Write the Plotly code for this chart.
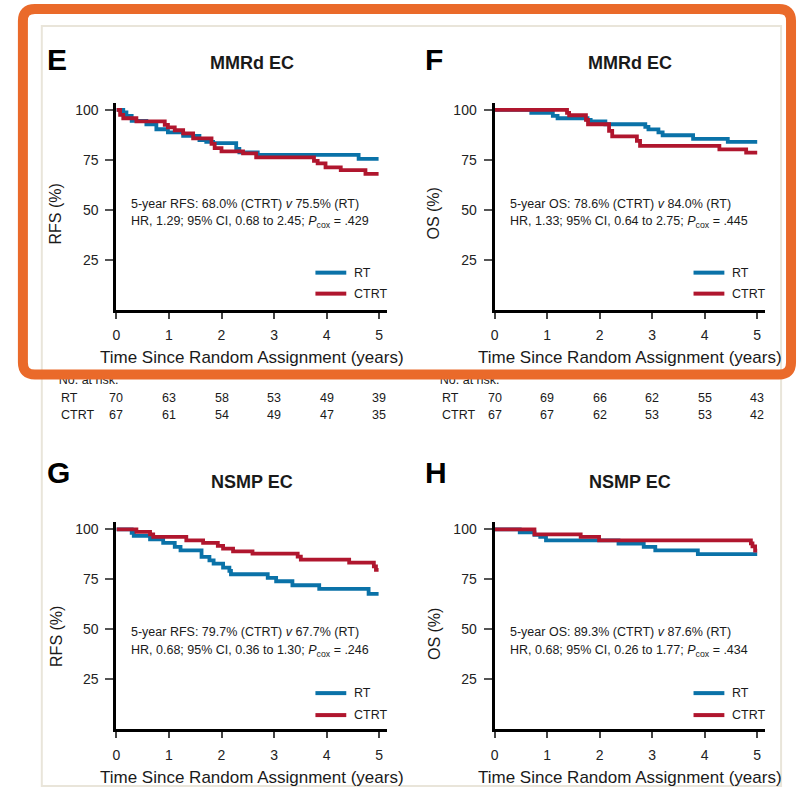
import plotly.graph_objects as go

W, H = 797, 788

# ---------------- Kaplan-Meier step data (time in years, survival %) ----------------
# Panel E: MMRd EC, recurrence-free survival
e_rt_t = [0, 0.13, 0.19, 0.29, 0.57, 0.76, 0.98, 1.27, 1.58, 1.71, 1.84, 2.28, 2.34, 2.69, 4.61, 4.99]
e_rt_s = [100, 98.7, 97, 94.5, 92.8, 90.3, 88.7, 87, 84.8, 84, 83.3, 80.5, 78.7, 77.5, 75.5, 75.5]
e_ct_t = [0, 0.07, 0.13, 0.38, 0.92, 0.98, 1.11, 1.27, 1.46, 1.81, 1.87, 2.0, 2.41, 2.66, 3.76, 3.83, 3.98, 4.27, 4.74, 4.99]
e_ct_s = [100, 97.5, 95.8, 94.2, 92.5, 91.2, 89.8, 88.2, 85.7, 83, 80.8, 79.2, 78.2, 76.2, 74.5, 73.2, 71.2, 69.8, 68.0, 68.0]

# Panel F: MMRd EC, overall survival
f_rt_t = [0, 0.70, 1.11, 1.20, 1.77, 1.83, 2.11, 2.87, 2.93, 3.12, 3.20, 3.78, 4.44, 5.0]
f_rt_s = [100, 98.5, 97, 95.8, 95, 94.2, 92.8, 91.5, 90.2, 88.7, 87.3, 85.5, 84.0, 84.0]
f_ct_t = [0, 1.38, 1.42, 1.74, 1.78, 2.18, 2.24, 2.71, 2.77, 4.28, 4.79, 5.0]
f_ct_s = [100, 98.5, 97.3, 95, 92.8, 89.5, 86.7, 84.5, 82, 80.2, 78.6, 78.6]

# Panel G: NSMP EC, recurrence-free survival
g_rt_t = [0, 0.29, 0.33, 0.64, 0.89, 1.11, 1.22, 1.62, 1.77, 1.85, 2.03, 2.15, 2.18, 2.88, 3.04, 3.35, 3.86, 4.80, 4.99]
g_rt_s = [100, 98.3, 96.7, 95, 93.2, 91.2, 89.5, 86.2, 84.5, 82.8, 80.8, 79.2, 77.5, 75.7, 74, 72, 70.2, 67.7, 67.7]
g_ct_t = [0, 0.38, 0.64, 0.70, 1.33, 1.65, 1.93, 2.03, 2.22, 2.59, 3.45, 3.51, 4.43, 4.90, 4.94, 4.99]
g_ct_s = [100, 98.7, 97.5, 96.2, 94.5, 93.2, 91.7, 90.3, 89, 87.8, 86.3, 84.8, 83.3, 81.5, 79.7, 79.7]

# Panel H: NSMP EC, overall survival
h_rt_t = [0, 0.48, 0.76, 0.87, 0.98, 2.36, 2.84, 3.06, 3.87, 5.0]
h_rt_s = [100, 98.5, 97.2, 96.2, 94.5, 92.8, 91.2, 89.5, 87.6, 87.6]
h_ct_t = [0, 0.76, 1.64, 1.99, 4.88, 4.91, 4.96, 5.0]
h_ct_s = [100, 97.5, 96.2, 94.5, 93, 91.5, 89.3, 89.3]

# Number at risk (years 0-5)
risk_years = [0, 1, 2, 3, 4, 5]
e_risk_rt = [70, 63, 58, 53, 49, 39]
e_risk_ct = [67, 61, 54, 49, 47, 35]
f_risk_rt = [70, 69, 66, 62, 55, 43]
f_risk_ct = [67, 67, 62, 53, 53, 42]

# Text
letters = ["E", "F", "G", "H"]
subgroups = ["MMRd EC", "MMRd EC", "NSMP EC", "NSMP EC"]
y_titles = ["RFS (%)", "OS (%)", "RFS (%)", "OS (%)"]
x_title = "Time Since Random Assignment (years)"
stat_line1 = [
    "5-year RFS: 68.0% (CTRT) <i>v</i> 75.5% (RT)",
    "5-year OS: 78.6% (CTRT) <i>v</i> 84.0% (RT)",
    "5-year RFS: 79.7% (CTRT) <i>v</i> 67.7% (RT)",
    "5-year OS: 89.3% (CTRT) <i>v</i> 87.6% (RT)",
]
stat_line2 = [
    "HR, 1.29; 95% CI, 0.68 to 2.45; <i>P</i><sub>cox</sub> = .429",
    "HR, 1.33; 95% CI, 0.64 to 2.75; <i>P</i><sub>cox</sub> = .445",
    "HR, 0.68; 95% CI, 0.36 to 1.30; <i>P</i><sub>cox</sub> = .246",
    "HR, 0.68; 95% CI, 0.26 to 1.77; <i>P</i><sub>cox</sub> = .434",
]
x_ticks = [0, 1, 2, 3, 4, 5]
y_ticks = [25, 50, 75, 100]

BLUE = "#0A72A8"
RED = "#B0162E"
ORANGE = "#EA6A2A"
INK = "#1a1a1a"
FONT = "Liberation Sans, Arial, Helvetica, sans-serif"


def px(x):
    return x / W


def py(y):
    return 1 - y / H


# layout geometry in page pixels: (axis x, axis bottom y, axis top y)
panels = [
    dict(ax="x", ay="y", left=113, right=385, bottom=309, top=102),
    dict(ax="x2", ay="y2", left=493, right=765, bottom=309, top=102),
    dict(ax="x3", ay="y3", left=113, right=385, bottom=729, top=522),
    dict(ax="x4", ay="y4", left=493, right=765, bottom=729, top=522),
]
curves = [
    (e_rt_t, e_rt_s, e_ct_t, e_ct_s),
    (f_rt_t, f_rt_s, f_ct_t, f_ct_s),
    (g_rt_t, g_rt_s, g_ct_t, g_ct_s),
    (h_rt_t, h_rt_s, h_ct_t, h_ct_s),
]
stat_y = [(203, 221), (203, 221), (632, 651), (632, 651)]
stat_x = [126, 507, 126, 507]
legend_y = [(272, 293), (272, 293), (693, 715), (693, 715)]
title_y = [(59, 62), (59, 62), (472, 482), (472, 482)]
ytitle_y = [213, 213, 636, 634]
xtitle_y = [357, 357, 777, 777]

fig = go.Figure()
layout = dict(
    width=W, height=H, margin=dict(l=0, r=0, t=0, b=0),
    paper_bgcolor="white", plot_bgcolor="rgba(0,0,0,0)",
    showlegend=False, font=dict(family=FONT, color=INK),
)
annotations = []
shapes = []

for i, p in enumerate(panels):
    rt_t, rt_s, ct_t, ct_s = curves[i]
    for t, s, col, name in [(rt_t, rt_s, BLUE, "RT"), (ct_t, ct_s, RED, "CTRT")]:
        fig.add_trace(go.Scatter(
            x=t, y=s, mode="lines", name=name, line=dict(color=col, width=3.8, shape="hv"),
            xaxis=p["ax"], yaxis=p["ay"], hoverinfo="skip", cliponaxis=False,
        ))
    xkey = "xaxis" + p["ax"][1:]
    ykey = "yaxis" + p["ay"][1:]
    xr = (p["right"] - p["left"]) / 52.8
    layout[xkey] = dict(
        domain=[px(p["left"]), px(p["right"])], range=[0, xr], anchor=p["ay"],
        tickvals=x_ticks, ticks="outside", ticklen=6, tickwidth=1.5, tickcolor="#444",
        showline=True, linecolor="black", linewidth=3, showgrid=False, zeroline=False,
        tickfont=dict(size=14, color="#222", family=FONT), ticklabelstandoff=5,
    )
    layout[ykey] = dict(
        domain=[py(p["bottom"]), py(p["top"])], range=[0, (p["bottom"] - p["top"]) / 2.0],
        anchor=p["ax"], tickvals=y_ticks, ticks="outside", ticklen=8, tickwidth=1.5,
        tickcolor="#555", showline=True, linecolor="black", linewidth=3, showgrid=False,
        zeroline=False, tickfont=dict(size=14, color="#222", family=FONT), ticklabelstandoff=4,
    )

    left = p["left"]
    cx = (p["left"] + p["right"]) / 2
    # panel letter and subgroup title
    annotations.append(dict(text="<b>%s</b>" % letters[i], x=px(left - 72), y=py(title_y[i][0]),
                            xref="paper", yref="paper", xanchor="left", yanchor="middle",
                            showarrow=False, font=dict(size=30, color="black", family=FONT)))
    annotations.append(dict(text="<b>%s</b>" % subgroups[i], x=px(cx), y=py(title_y[i][1]),
                            xref="paper", yref="paper", xanchor="center", yanchor="middle",
                            showarrow=False, font=dict(size=18, color=INK, family=FONT)))
    # axis titles
    annotations.append(dict(text=y_titles[i], x=px(left - 61), y=py(ytitle_y[i]), textangle=-90,
                            xref="paper", yref="paper", xanchor="center", yanchor="middle",
                            showarrow=False, font=dict(size=16, color=INK, family=FONT)))
    annotations.append(dict(text=x_title, x=px(cx), y=py(xtitle_y[i]),
                            xref="paper", yref="paper", xanchor="center", yanchor="middle",
                            showarrow=False, font=dict(size=17, color=INK, family=FONT)))
    # hazard-ratio statistics
    for txt, yy in [(stat_line1[i], stat_y[i][0]), (stat_line2[i], stat_y[i][1])]:
        annotations.append(dict(text=txt, x=px(stat_x[i]), y=py(yy), xref="paper", yref="paper",
                                xanchor="left", yanchor="middle", showarrow=False,
                                font=dict(size=12.5, color=INK, family=FONT)))
    # legend keys
    for (lab, col), yy in zip([("RT", BLUE), ("CTRT", RED)], legend_y[i]):
        shapes.append(dict(type="line", xref="paper", yref="paper",
                           x0=px(left + 200), x1=px(left + 231), y0=py(yy), y1=py(yy),
                           line=dict(color=col, width=4)))
        annotations.append(dict(text=lab, x=px(left + 237), y=py(yy), xref="paper", yref="paper",
                                xanchor="left", yanchor="middle", showarrow=False,
                                font=dict(size=12.5, color=INK, family=FONT)))

# number-at-risk tables under E and F
for ax, lab_x, rt_vals, ct_vals in [("x", 55, e_risk_rt, e_risk_ct), ("x2", 438, f_risk_rt, f_risk_ct)]:
    for lab, vals, yy in [("RT", rt_vals, 398), ("CTRT", ct_vals, 415)]:
        annotations.append(dict(text=lab, x=px(lab_x), y=py(yy), xref="paper", yref="paper",
                                xanchor="left", yanchor="middle", showarrow=False,
                                font=dict(size=12.5, color=INK, family=FONT)))
        for yr, v in zip(risk_years, vals):
            annotations.append(dict(text=str(v), x=yr, y=py(yy), xref=ax, yref="paper",
                                    xanchor="center", yanchor="middle", showarrow=False,
                                    font=dict(size=12.5, color=INK, family=FONT)))

# full-page pixel overlay for the table caption (sits beneath the highlight frame)
layout["xaxis5"] = dict(domain=[0, 1], range=[0, W], visible=False, anchor="y5", fixedrange=True)
layout["yaxis5"] = dict(domain=[0, 1], range=[H, 0], visible=False, anchor="x5", fixedrange=True)
fig.add_trace(go.Scatter(
    x=[55, 438], y=[380, 380], mode="text", text=["No. at risk.", "No. at risk."],
    textposition="middle right", textfont=dict(size=12.5, color=INK, family=FONT),
    xaxis="x5", yaxis="y5", hoverinfo="skip", cliponaxis=False,
))

# light frame around the whole figure
shapes.append(dict(type="rect", xref="paper", yref="paper", layer="below",
                   x0=px(38), x1=px(781), y0=py(786), y1=py(25),
                   line=dict(color="#E9E5DA", width=2)))

# orange rounded highlight frame around panels E and F
x0, x1, y0, y1, r = 19, 791, 8, 374, 12
path = (
    f"M {px(x0 + r)},{py(y0)} L {px(x1 - r)},{py(y0)} Q {px(x1)},{py(y0)} {px(x1)},{py(y0 + r)} "
    f"L {px(x1)},{py(y1 - r)} Q {px(x1)},{py(y1)} {px(x1 - r)},{py(y1)} "
    f"L {px(x0 + r)},{py(y1)} Q {px(x0)},{py(y1)} {px(x0)},{py(y1 - r)} "
    f"L {px(x0)},{py(y0 + r)} Q {px(x0)},{py(y0)} {px(x0 + r)},{py(y0)} Z"
)
shapes.append(dict(type="path", path=path, xref="paper", yref="paper", layer="above",
                   line=dict(color=ORANGE, width=10)))

layout["annotations"] = annotations
layout["shapes"] = shapes
fig.update_layout(**layout)
fig.write_html("out.html")
